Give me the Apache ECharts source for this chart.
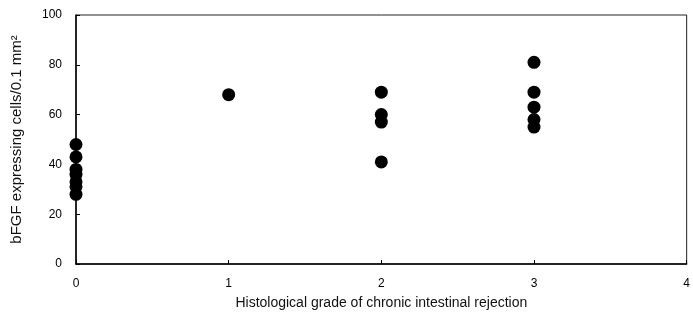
<!DOCTYPE html>
<html>
<head>
<meta charset="utf-8">
<script src="https://cdn.jsdelivr.net/npm/echarts@6/dist/echarts.min.js"></script>
<style>
  html, body { margin: 0; padding: 0; background: #fff; }
  #chart { width: 693px; height: 329px; }
</style>
</head>
<body>
<div id="chart"></div>
<script>
// Histological grade of chronic rejection for each specimen group
const grades = [0, 1, 2, 3];
// bFGF expressing cells per 0.1 mm² in each grade
const grade0 = [48, 43, 38, 36, 33, 31, 28];
const grade1 = [68];
const grade2 = [69, 60, 57, 41];
const grade3 = [81, 69, 63, 58, 55];
const groups = [grade0, grade1, grade2, grade3];

const xTitle = 'Histological grade of chronic intestinal rejection';
const yTitle = 'bFGF expressing cells/0.1 mm²';

const points = [];
groups.forEach((vals, i) => vals.forEach(v => points.push([grades[i], v])));

const chart = echarts.init(document.getElementById('chart'));
const font = 'Liberation Sans, Arial, sans-serif';

chart.setOption({
  animation: false,
  backgroundColor: '#fff',
  grid: { left: 76, right: 4, top: 15, bottom: 65, show: true, borderColor: '#222', borderWidth: 1 },
  xAxis: {
    type: 'value', min: 0, max: 4, interval: 1,
    name: xTitle, nameLocation: 'middle', nameGap: 32,
    nameTextStyle: { fontFamily: font, fontSize: 14, color: '#111' },
    axisLine: { onZero: false, lineStyle: { color: '#000', width: 1.5 } },
    axisTick: { inside: true, length: 4, lineStyle: { color: '#000' } },
    axisLabel: { fontFamily: font, fontSize: 12, color: '#000', margin: 14 },
    splitLine: { show: false }
  },
  yAxis: {
    type: 'value', min: 0, max: 100, interval: 20,
    name: yTitle, nameLocation: 'middle', nameGap: 52,
    nameTextStyle: { fontFamily: font, fontSize: 15, color: '#111' },
    axisLine: { show: true, lineStyle: { color: '#000', width: 1.5 } },
    axisTick: { show: true, inside: true, length: 4, lineStyle: { color: '#000' } },
    axisLabel: { fontFamily: font, fontSize: 12, color: '#000', margin: 14 },
    splitLine: { show: false }
  },
  series: [{
    type: 'scatter',
    data: points,
    symbol: 'circle',
    symbolSize: 13,
    itemStyle: { color: '#000', opacity: 1 }
  }]
});
</script>
</body>
</html>
